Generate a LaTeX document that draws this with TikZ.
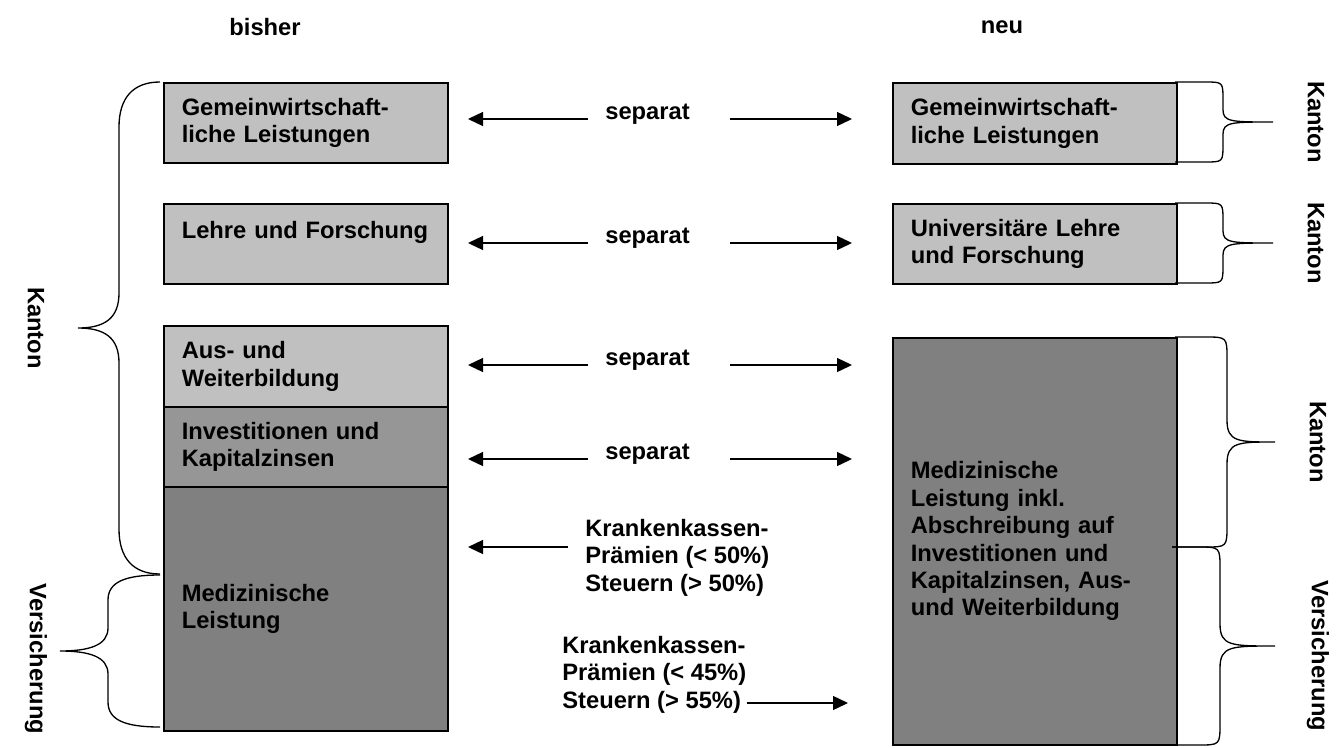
\documentclass[tikz,border=0pt]{standalone}
\usepackage{fontspec}
\setmainfont{Liberation Sans}
\usepackage{tikz}
\usetikzlibrary{arrows.meta,calc}
\definecolor{hellgrau}{HTML}{C0C0C0}
\definecolor{mittelgrau}{HTML}{969696}
\definecolor{dunkelgrau}{HTML}{808080}

\begin{document}
\begin{tikzpicture}[x=0.02cm,y=-0.02cm,>={Triangle[length=0.3cm,width=0.28cm]},
  font=\fontsize{13.5}{15.6}\selectfont\bfseries,
  feld/.style={draw,line width=0.9pt,anchor=north west,minimum width=5.68cm,
    inner xsep=0.36cm,inner ysep=0pt,text width=4.96cm,align=left},
  pfeil/.style={->,line width=0.75pt},
  klammer/.style={line width=0.75pt},
  txt/.style={inner sep=0pt,align=left}]
  \useasboundingbox (0,0) rectangle (1344,747);
  % Ueberschriften
  \node (bisher) at (265,27) {bisher};
  \node (neu) at (1002,27) {neu};
  % bisher
  \node[feld,fill=hellgrau,minimum height=1.6cm] (gwl) at (163,82) {Gemeinwirtschaft-\\liche Leistungen};
  \node[feld,fill=hellgrau,minimum height=1.6cm] (luf) at (163,203) {\mbox{Lehre und Forschung}\\\mbox{}};
  \node[feld,fill=hellgrau,minimum height=1.62cm] (awb) at (163,325) {Aus- und\\Weiterbildung};
  \node[feld,fill=mittelgrau,minimum height=1.6cm] (inv) at (163,406) {Investitionen und\\Kapitalzinsen};
  \node[feld,fill=dunkelgrau,minimum height=4.88cm] (med) at (163,486) {Medizinische\\Leistung};
  % neu
  \node[feld,fill=hellgrau,minimum width=5.66cm,minimum height=1.62cm] (gwlneu) at (892,82) {Gemeinwirtschaft-\\liche Leistungen};
  \node[feld,fill=hellgrau,minimum width=5.66cm,minimum height=1.6cm] (lufneu) at (892,203) {Universitäre Lehre\\und Forschung};
  \node[feld,fill=dunkelgrau,minimum width=5.66cm,minimum height=8.14cm] (medneu) at (892,337)
    {Medizinische\\Leistung inkl.\\Abschreibung auf\\Investitionen und\\Kapitalzinsen, Aus-\\und Weiterbildung};
  % separat
  \node[txt,anchor=base west] (sep1) at (605,119) {separat};
  \node[txt,anchor=base west] (sep2) at (605,243) {separat};
  \node[txt,anchor=base west] (sep3) at (605,365) {separat};
  \node[txt,anchor=base west] (sep4) at (605,459) {separat};
  \coordinate (l1) at (468,119); \coordinate (r1) at (852,119);
  \coordinate (l2) at (468,243); \coordinate (r2) at (852,243);
  \coordinate (l3) at (468,365); \coordinate (r3) at (852,365);
  \coordinate (l4) at (468,459); \coordinate (r4) at (852,459);
  \draw[pfeil] ([xshift=-0.34cm]sep1.base west) -- (l1);
  \draw[pfeil] ([xshift=0.8cm]sep1.base east) -- (r1);
  \draw[pfeil] ([xshift=-0.34cm]sep2.base west) -- (l2);
  \draw[pfeil] ([xshift=0.8cm]sep2.base east) -- (r2);
  \draw[pfeil] ([xshift=-0.34cm]sep3.base west) -- (l3);
  \draw[pfeil] ([xshift=0.8cm]sep3.base east) -- (r3);
  \draw[pfeil] ([xshift=-0.34cm]sep4.base west) -- (l4);
  \draw[pfeil] ([xshift=0.8cm]sep4.base east) -- (r4);
  % Finanzierung
  \node[txt,anchor=north west] (kk1) at (585,519) {Krankenkassen-\\Prämien (< 50\%)\\Steuern (> 50\%)};
  \node[txt,anchor=north west] (kk2) at (562,636) {Krankenkassen-\\Prämien (< 45\%)\\Steuern (> 55\%)};
  \coordinate (k1) at (468,547);
  \coordinate (k2) at (848,703);
  \draw[pfeil] ($(kk1.west |- k1)+(-17,0)$) -- (k1);
  \draw[pfeil] (kk2.east |- k2) -- (k2);
  % Klammern links
  \draw[klammer] (160,82) .. controls (133,82) and (119,98) .. (119,127) -- (119,293)
    .. controls (119,318) and (105,328) .. (78,328) .. controls (105,328) and (119,338) .. (119,363)
    -- (119,529) .. controls (119,558) and (133,574) .. (160,574);
  \draw[klammer] (160,575) .. controls (125,575) and (108,582) .. (108,600) -- (108,628)
    .. controls (108,645) and (90,651) .. (60,651) .. controls (90,651) and (108,657) .. (108,674)
    -- (108,702) .. controls (108,720) and (125,727) .. (160,727);
  % Klammern rechts
  \draw[klammer] (1175,82) -- (1205,82) .. controls (1223,82) .. (1223,100) -- (1223,110)
    .. controls (1223,122) and (1232,122) .. (1273,122) .. controls (1232,122) and (1223,122) .. (1223,134)
    -- (1223,144) .. controls (1223,162) .. (1205,162) -- (1175,162);
  \draw[klammer] (1175,203) -- (1205,203) .. controls (1223,203) .. (1223,221) -- (1223,231)
    .. controls (1223,243) and (1232,243) .. (1273,243) .. controls (1232,243) and (1223,243) .. (1223,255)
    -- (1223,265) .. controls (1223,283) .. (1205,283) -- (1175,283);
  \draw[klammer] (1175,337) -- (1205,337) .. controls (1227,337) .. (1227,359) -- (1227,420)
    .. controls (1227,442) and (1238,442) .. (1275,442) .. controls (1238,442) and (1227,442) .. (1227,464)
    -- (1227,525) .. controls (1227,547) .. (1205,547) -- (1172,547);
  \draw[klammer] (1172,547) -- (1198,547) .. controls (1220,547) .. (1220,569) -- (1220,624)
    .. controls (1220,646) and (1231,646) .. (1275,646) .. controls (1231,646) and (1220,646) .. (1220,668)
    -- (1220,723) .. controls (1220,745) .. (1198,745) -- (1175,745);
  % Traeger
  \node[rotate=-90] (kanton1) at (36,328) {Kanton};
  \node[rotate=-90] (vers1) at (36,659) {Versicherung};
  \node[rotate=-90] (kanton2) at (1316,122) {Kanton};
  \node[rotate=-90] (kanton3) at (1316,243) {Kanton};
  \node[rotate=-90] (kanton4) at (1318,442) {Kanton};
  \node[rotate=-90] (vers2) at (1318,656) {Versicherung};
\end{tikzpicture}
\end{document}
